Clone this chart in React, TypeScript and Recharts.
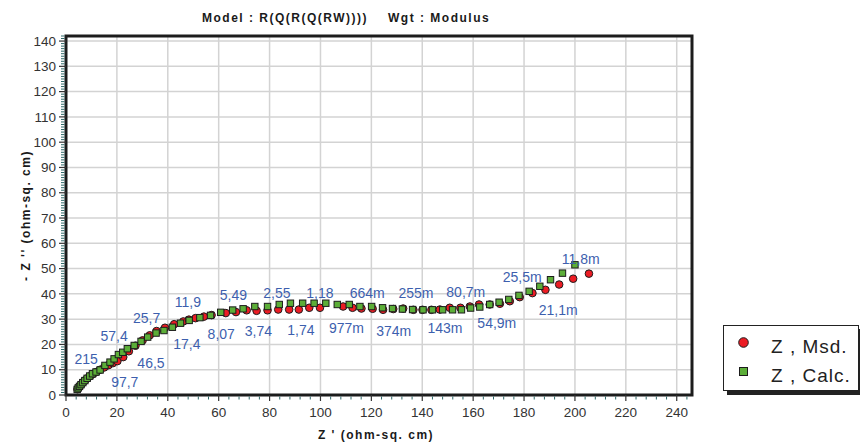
import { CartesianGrid, ReferenceArea, Scatter, ScatterChart, XAxis, YAxis } from 'recharts';

// Nyquist plot, Z' vs -Z'' (ohm-sq. cm)
const msdZre = [
  4.5, 4.9, 5.4, 6.0, 6.7, 7.5, 8.4, 9.4, 10.6, 11.9, 13.4, 15.0, 16.7, 18.4, 20.2, 22.5, 24.7, 27.3, 30.1,
  32.9, 35.6, 38.9, 42.5, 46.1, 48.3, 50.9, 54.2, 57.2, 62.8, 66.8, 71.0, 74.9, 79.2, 83.4, 87.7, 91.5, 95.6,
  99.8, 108.9, 112.6, 116.1, 120.5, 124.6, 128.6, 132.5, 136.5, 140.1, 143.6, 146.9, 150.8, 155.0, 158.7,
  162.3, 166.5, 170.5, 174.4, 178.3, 183.3, 188.4, 193.8, 199.3, 205.5,
];
const msdZim = [
  2.3, 2.9, 3.5, 4.2, 5.0, 5.8, 6.6, 7.4, 8.3, 9.1, 10.0, 10.9, 11.8, 12.6, 13.4, 15.0, 17.3, 19.5, 21.6,
  23.6, 25.3, 26.6, 28.0, 29.1, 29.8, 30.4, 31.0, 31.6, 32.4, 32.8, 33.5, 33.3, 33.5, 33.8, 33.8, 33.8, 34.5,
  34.5, 35.0, 34.5, 34.2, 34.1, 33.7, 34.0, 34.2, 33.7, 33.7, 33.7, 33.8, 34.5, 34.5, 35.0,
  35.8, 35.8, 36.1, 37.1, 38.7, 40.3, 41.6, 43.7, 46.0, 48.0,
];

const calcZre = [
  4.4, 4.8, 5.3, 5.9, 6.6, 7.4, 8.3, 9.3, 10.4, 11.8, 13.4, 15.3, 17.3, 18.9, 20.6, 22.3, 24.1, 26.8, 29.5,
  32.1, 35.4, 38.5, 41.8, 45.0, 48.4, 52.6, 56.8, 60.8, 65.5, 69.6, 74.2, 79.2, 83.8, 88.2, 93.0, 97.5, 102.1,
  106.6, 111.3, 115.5, 120.1, 124.4, 128.3, 132.2, 136.2, 140.3, 144.0, 148.0, 151.9, 155.4, 159.0, 162.6,
  166.5, 170.2, 174.0, 178.0, 182.0, 186.2, 190.4, 195.1, 200.0,
];
const calcZim = [
  2.2, 2.8, 3.4, 4.1, 4.9, 5.7, 6.6, 7.5, 8.4, 9.1, 9.9, 11.7, 13.0, 14.3, 16.0, 16.9, 18.3, 19.6, 21.2,
  22.9, 24.5, 25.5, 26.8, 28.4, 29.5, 30.6, 31.5, 32.7, 33.6, 34.1, 35.0, 35.0, 35.8, 36.3, 36.3, 36.3, 36.3,
  35.8, 35.8, 35.0, 35.0, 34.5, 34.2, 34.0, 33.8, 33.7, 33.7, 33.7, 33.7, 33.7, 34.4, 34.8,
  35.8, 36.7, 37.8, 39.4, 41.0, 43.0, 45.6, 48.2, 51.5,
];

// frequency annotations (Hz)
const freqText = [
  '215', '97,7', '57,4', '46,5', '25,7', '17,4', '11,9', '8,07', '5,49', '3,74', '2,55', '1,74',
  '1,18', '977m', '664m', '374m', '255m', '143m', '80,7m', '54,9m', '25,5m', '21,1m', '11,8m',
];
const freqZre = [
  7.9, 23.1, 18.9, 33.4, 31.7, 47.5, 47.9, 61.0, 65.8, 75.6, 82.9, 92.3,
  99.8, 110.2, 118.4, 128.8, 137.5, 148.9, 157.1, 169.3, 179.3, 193.4, 202.3,
];
const freqZim = [
  14.3, 5.3, 23.2, 12.7, 30.6, 20.3, 36.7, 24.0, 39.4, 25.5, 40.2, 25.9,
  40.3, 26.6, 40.2, 25.5, 40.2, 26.4, 40.7, 28.4, 46.6, 33.8, 53.6,
];

const xMajor = [0, 20, 40, 60, 80, 100, 120, 140, 160, 180, 200, 220, 240];
const yMajor = [0, 10, 20, 30, 40, 50, 60, 70, 80, 90, 100, 110, 120, 130, 140];
const xTicks = Array.from({ length: 62 }, (_, i) => i * 4);
const yTicks = Array.from({ length: 143 }, (_, i) => i);

const msd = msdZre.map((x, i) => ({ x, y: msdZim[i] }));
const calc = calcZre.map((x, i) => ({ x, y: calcZim[i] }));
const freqs = freqText.map((text, i) => ({ x: freqZre[i], y: freqZim[i], text }));

const RED = '#ec1c24';
const GREEN = '#5cae38';
const EDGE = '#1c1c1c';
const BLUE = '#3d5fae';
const FONT = 'Arial, "Liberation Sans", sans-serif';

const YTick = ({ x, y, payload }: any) => {
  const v = payload.value;
  if (!yMajor.includes(v)) {
    return <line x1={x - 5} x2={x - 1.5} y1={y} y2={y} stroke="#2e6868" strokeWidth={1} />;
  }
  return (
    <g>
      <line x1={x - 7} x2={x} y1={y} y2={y} stroke="#333" strokeWidth={1.2} />
      <text x={x - 10} y={y + 4.7} textAnchor="end" fontSize={13.5} fill="#333" fontFamily={FONT}>
        {v}
      </text>
    </g>
  );
};

const XTick = ({ x, y, payload }: any) => {
  const v = payload.value;
  if (!xMajor.includes(v)) {
    return <line x1={x} x2={x} y1={y + 1.5} y2={y + 4.5} stroke="#2e6868" strokeWidth={1} />;
  }
  return (
    <g>
      <line x1={x} x2={x} y1={y} y2={y + 6} stroke="#333" strokeWidth={1.2} />
      <text x={x} y={y + 21.5} textAnchor="middle" fontSize={13.5} fill="#333" fontFamily={FONT}>
        {v}
      </text>
    </g>
  );
};

const Dot = ({ cx, cy }: any) => <circle cx={cx} cy={cy} r={3.8} fill={RED} stroke={EDGE} strokeWidth={1} />;
const Box = ({ cx, cy }: any) => (
  <rect x={cx - 3.2} y={cy - 3.2} width={6.4} height={6.4} fill={GREEN} stroke={EDGE} strokeWidth={1} />
);
const FreqLabel = ({ cx, cy, payload }: any) => (
  <text x={cx} y={cy + 5} textAnchor="middle" fontSize={14} fill={BLUE} fontFamily={FONT}>
    {payload.text}
  </text>
);

export default function App() {
  return (
    <div style={{ position: 'absolute', left: 0, top: 0, width: 860, height: 446, background: '#fff', fontFamily: FONT }}>
      <ScatterChart width={860} height={446} margin={{ top: 36, right: 168, bottom: 21, left: 26 }}>
        <CartesianGrid
          stroke="#d3d3d3"
          strokeWidth={1.5}
          verticalValues={xMajor.filter((v) => v > 0)}
          horizontalValues={yMajor.filter((v) => v > 0)}
        />
        <XAxis
          type="number"
          dataKey="x"
          domain={[0, 246]}
          ticks={xTicks}
          interval={0}
          tick={<XTick />}
          tickLine={false}
          tickSize={0}
          tickMargin={0}
          axisLine={false}
          height={30}
        />
        <YAxis
          type="number"
          dataKey="y"
          domain={[0, 142]}
          ticks={yTicks}
          interval={0}
          tick={<YTick />}
          tickLine={false}
          tickSize={0}
          tickMargin={0}
          axisLine={false}
          width={40}
        />
        <ReferenceArea x1={0} x2={246} y1={0} y2={142} fill="none" stroke={EDGE} strokeWidth={3} />
        <Scatter name="Z , Msd." data={msd} shape={<Dot />} isAnimationActive={false} />
        <Scatter name="Z , Calc." data={calc} shape={<Box />} isAnimationActive={false} />
        <Scatter data={freqs} shape={<FreqLabel />} isAnimationActive={false} />
      </ScatterChart>

      <svg width={860} height={446} style={{ position: 'absolute', left: 0, top: 0, pointerEvents: 'none' }}>
        <g fontFamily={FONT} fontWeight="bold" fontSize={12} fill="#1a1a1a" letterSpacing={1.5} style={{ whiteSpace: 'pre' }}>
          <text x={202} y={22}>Model : R(Q(R(Q(RW))))</text>
          <text x={388} y={22}>Wgt : Modulus</text>
          <text x={376} y={439} textAnchor="middle">Z '  (ohm-sq. cm)</text>
          <text x={30} y={215.5} textAnchor="middle" transform="rotate(-90 30 215.5)">
            - Z ''  (ohm-sq. cm)
          </text>
        </g>
      </svg>

      <div
        style={{
          position: 'absolute',
          left: 723,
          top: 325,
          width: 136,
          height: 66,
          border: '1.5px solid #222',
          boxShadow: '4px 4px 0 #222',
          background: '#fff',
          boxSizing: 'border-box',
        }}
      >
        <svg width={134} height={64} style={{ display: 'block' }}>
          <circle cx={19.5} cy={16.5} r={4.8} fill={RED} stroke={EDGE} strokeWidth={1} />
          <rect x={15.5} y={41.5} width={8} height={8} fill={GREEN} stroke={EDGE} strokeWidth={1} />
          <g fontFamily={FONT} fontSize={19} fill="#222" letterSpacing={1} style={{ whiteSpace: 'pre' }}>
            <text x={47} y={27}>Z , Msd.</text>
            <text x={47} y={55.5}>Z , Calc.</text>
          </g>
        </svg>
      </div>
    </div>
  );
}
